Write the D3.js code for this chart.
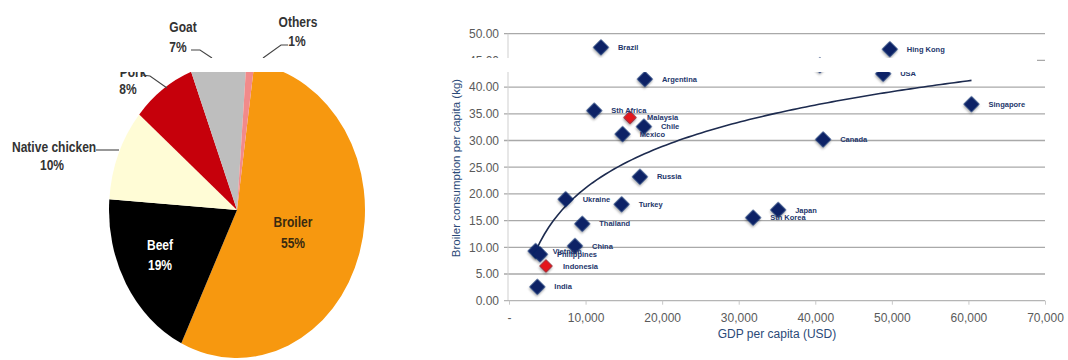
<!DOCTYPE html>
<html><head><meta charset="utf-8">
<script src="https://cdn.jsdelivr.net/npm/d3@7"></script>
<style>
html,body{margin:0;padding:0;background:#fff;}
svg{display:block;}
</style></head>
<body>
<svg id="chart" width="1068" height="360"></svg>
<script>
// ---------- DATA ----------
const pieCategories = ["Broiler", "Beef", "Native chicken", "Pork", "Goat", "Others"];
const pieValues = [55, 19, 10, 8, 7, 1];

const countries = ["Brazil", "Argentina", "Sth Africa", "Malaysia", "Chile", "Mexico", "Russia", "Ukraine",
  "Turkey", "Thailand", "China", "Vietnam", "Philippines", "Indonesia", "India", "Hing Kong", "USA", "",
  "Singapore", "Canada", "Sth Korea", "Japan"];
const gdpPerCapita = [12010, 17750, 11140, 15800, 17620, 14840, 17100, 7400,
  14710, 9570, 8620, 3480, 4050, 4830, 3700, 49740, 48870, 40600,
  60400, 41030, 31890, 35150];
const broilerConsumption = [47.45, 41.5, 35.6, 34.3, 32.6, 31.2, 23.2, 19.0,
  18.05, 14.4, 10.25, 9.3, 8.7, 6.5, 2.6, 47.1, 42.5, 44.1,
  36.8, 30.2, 15.55, 17.0];
const highlighted = ["Malaysia", "Indonesia"];

const yTicks = [0, 5, 10, 15, 20, 25, 30, 35, 40, 45, 50];
const xTicks = [0, 10000, 20000, 30000, 40000, 50000, 60000, 70000];
const yTitle = "Broiler consumption per capita (kg)";
const xTitle = "GDP per capita (USD)";

// ---------- SETUP ----------
const svg = d3.select("#chart");
const defs = svg.append("defs");
const f = defs.append("filter").attr("id", "shadow").attr("x", "-50%").attr("y", "-50%").attr("width", "200%").attr("height", "200%");
f.append("feDropShadow").attr("dx", 1).attr("dy", 1.5).attr("stdDeviation", 1.2).attr("flood-color", "#000").attr("flood-opacity", 0.35);

// ---------- PIE ----------
const pieColors = d3.scaleOrdinal().domain(pieCategories)
  .range(["#F7980F", "#000000", "#FFFCD6", "#C6000B", "#BEBEBE", "#F28A8A"]);
const cx = 237, cy = 210, rx = 128, ry = 148;
const startA = 7.8 * Math.PI / 180;
const pie = d3.pie().sort(null).startAngle(startA).endAngle(startA + 2 * Math.PI);
const arc = d3.arc().innerRadius(0).outerRadius(rx);
const pieData = pie(pieValues);

const pg = svg.append("g").attr("transform", `translate(${cx},${cy}) scale(1,${ry / rx})`);
pg.selectAll("path").data(pieData).join("path")
  .attr("d", arc)
  .attr("fill", (d, i) => pieColors(pieCategories[i]));

const pieFont = "'Liberation Sans Narrow','Arial Narrow','Liberation Sans',Arial,sans-serif";
const squeeze = 0.83;
// label layout (relative to the pie centre)
const pieLabelLayout = {
  "Broiler": {x: 56, y1: 17, y2: 38, color: "#3a2a10", anchor: "middle"},
  "Beef": {x: -77, y1: 40, y2: 60, color: "#ffffff", anchor: "middle"},
  "Native chicken": {x: -225, y1: -58, y2: -40, color: "#333", anchor: "start", x2: -185, line: [[-141, -60], [-118, -60]]},
  "Pork": {x: -104, y1: -133, y2: -116, color: "#333", anchor: "middle", x2: -109, line: [[-95, -135], [-87, -134], [-70, -122]]},
  "Goat": {x: -54, y1: -178, y2: -158, color: "#333", anchor: "middle", x2: -59, line: [[-46, -160], [-37, -160], [-25, -152]]},
  "Others": {x: 61, y1: -183, y2: -164, color: "#333", anchor: "middle", x2: 60, line: [[51, -165], [44, -165], [26, -152]]}
};
const plg = svg.append("g").attr("transform", `translate(${cx},${cy})`);
pieCategories.forEach((c, i) => {
  const L = pieLabelLayout[c];
  if (L.line) {
    plg.append("path").attr("d", d3.line()(L.line)).attr("fill", "none").attr("stroke", "#444").attr("stroke-width", 1.1);
  }
  plg.append("text").attr("transform", `translate(${L.x},${L.y1}) scale(${squeeze},1)`).attr("text-anchor", L.anchor)
    .attr("font-family", pieFont).attr("font-weight", "bold").attr("font-size", 14.5)
    .attr("fill", L.color).text(c);
  plg.append("text").attr("transform", `translate(${L.x2 !== undefined ? L.x2 : L.x},${L.y2}) scale(${squeeze},1)`).attr("text-anchor", "middle")
    .attr("font-family", pieFont).attr("font-weight", "bold").attr("font-size", 14.5)
    .attr("fill", L.color).text(pieValues[i] + "%");
});

// ---------- SCATTER ----------
const x = d3.scaleLinear().domain([0, 70000]).range([509, 1045]);
const y = d3.scaleLinear().domain([0, 50]).range([300.7, 33.7]);
const font = "'Liberation Sans',Arial,sans-serif";
const sg = svg.append("g");

// gridlines
sg.selectAll("line.grid").data(yTicks.filter(t => t > 0)).join("line")
  .attr("x1", 504).attr("x2", 1045).attr("y1", d => y(d)).attr("y2", d => y(d))
  .attr("stroke", "#a9a9a9").attr("stroke-width", 1.3);
// y axis line
sg.append("line").attr("x1", 508).attr("x2", 508).attr("y1", y(50)).attr("y2", y(0))
  .attr("stroke", "#cfcfcf").attr("stroke-width", 1);
// x axis
const xAxis = d3.axisBottom(x).tickValues(xTicks).tickSize(4).tickSizeOuter(0)
  .tickFormat(d => d === 0 ? "-" : d3.format(",")(d));
const xa = sg.append("g").attr("transform", `translate(0,${y(0)})`).call(xAxis);
xa.select(".domain").attr("stroke", "#b5b5b5").attr("stroke-width", 1.3).attr("d", `M504,0H1045`);
xa.selectAll(".tick line").attr("stroke", "#c8c8c8");
xa.selectAll(".tick text").attr("font-family", font).attr("font-size", 12).attr("fill", "#5a5a5a").attr("dy", null).attr("y", 21);
// y axis labels
const yAxis = d3.axisLeft(y).tickValues(yTicks).tickSize(0).tickFormat(d3.format(".2f"));
const ya = sg.append("g").attr("transform", `translate(500,0)`).call(yAxis);
ya.select(".domain").remove();
ya.selectAll(".tick text").attr("font-family", font).attr("font-size", 12).attr("fill", "#5a5a5a").attr("x", -1);

// axis titles
sg.append("text").attr("transform", `translate(460,${168}) rotate(-90)`).attr("text-anchor", "middle")
  .attr("font-family", font).attr("font-size", 11.5).attr("fill", "#2b4a78").text(yTitle);
sg.append("text").attr("x", 777).attr("y", 338).attr("text-anchor", "middle")
  .attr("font-family", font).attr("font-size", 12).attr("fill", "#2b4a78").text(xTitle);

// trend line: logarithmic least squares fit of the data
const lx = gdpPerCapita.map(Math.log);
const mx = d3.mean(lx), my = d3.mean(broilerConsumption);
const sxy = d3.sum(lx, (v, i) => (v - mx) * (broilerConsumption[i] - my));
const sxx = d3.sum(lx, v => (v - mx) * (v - mx));
const slope = sxy / sxx, intercept = my - slope * mx;
const gMin = d3.min(gdpPerCapita), gMax = d3.max(gdpPerCapita);
const trendX = d3.range(0, 101).map(k => gMin + (gMax - gMin) * k / 100);
sg.append("path")
  .attr("d", d3.line().x(d => x(d)).y(d => y(slope * Math.log(d) + intercept))(trendX))
  .attr("fill", "none").attr("stroke", "#1d2b4f").attr("stroke-width", 1.6);

// points
const pts = countries.map((c, i) => ({name: c, gdp: gdpPerCapita[i], v: broilerConsumption[i], red: highlighted.includes(c)}));
const sym = d3.symbol().type(d3.symbolSquare);
sg.selectAll("path.pt").data(pts).join("path").attr("class", "pt")
  .attr("d", d => sym.size(d.red ? 80 : 130)())
  .attr("transform", d => `translate(${x(d.gdp)},${y(d.v)}) rotate(45)`)
  .attr("fill", d => d.red ? "#E4141B" : "#0A2466")
  .attr("stroke", d => d.red ? "#6a1020" : "none").attr("stroke-width", 0.6)
  .attr("filter", "url(#shadow)");
sg.selectAll("text.pl").data(pts.filter(d => d.name)).join("text").attr("class", "pl")
  .attr("x", d => x(d.gdp) + 17).attr("y", d => y(d.v)).attr("dy", "0.35em")
  .attr("font-family", font).attr("font-size", 7.5).attr("font-weight", "bold")
  .attr("fill", "#23366b").text(d => d.name);

// white band across the picture (as in the reference image)
svg.append("rect").attr("x", 0).attr("y", 58).attr("width", 1037).attr("height", 14).attr("fill", "#fff");
</script>
</body></html>
